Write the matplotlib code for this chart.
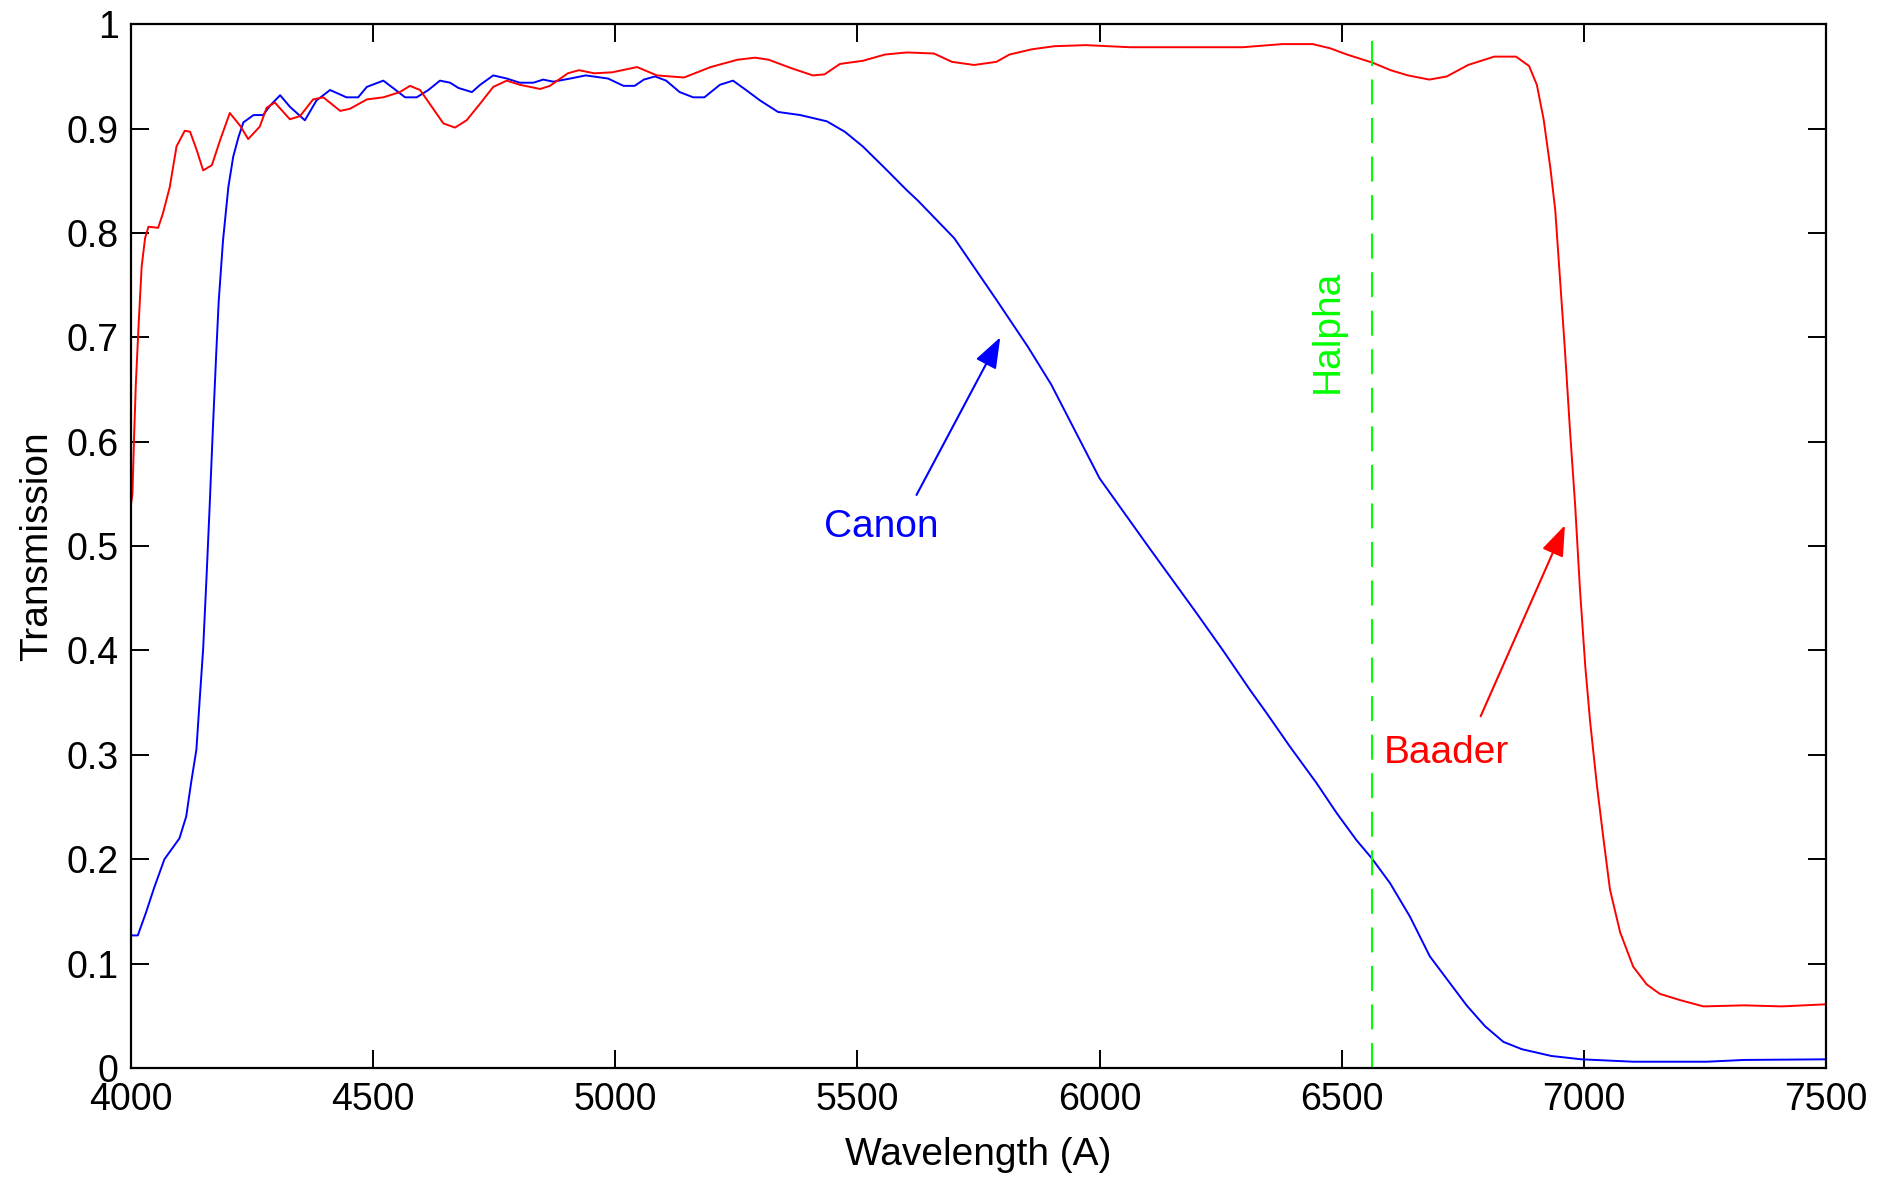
import numpy as np
import matplotlib.pyplot as plt
from matplotlib.ticker import FormatStrFormatter

plt.rcParams['font.family'] = ['Liberation Sans', 'DejaVu Sans']

# Canon (blue) transmission curve
canon_wl = [4000, 4014, 4031, 4048, 4069, 4100, 4114, 4124, 4135, 4142, 4149, 4156, 4162, 4169,
            4176, 4181, 4190, 4201, 4211, 4222, 4232, 4253, 4273, 4287, 4308, 4328, 4359, 4383,
            4411, 4445, 4469, 4487, 4521, 4541, 4566, 4590, 4614, 4638, 4659, 4676, 4704, 4721,
            4748, 4776, 4803, 4831, 4851, 4872, 4907, 4939, 4985, 5017, 5040, 5059, 5082, 5105,
            5133, 5161, 5184, 5216, 5243, 5270, 5299, 5336, 5382, 5437, 5474, 5511, 5557, 5602,
            5625, 5700, 5787, 5852, 5900, 6000, 6100, 6200, 6255, 6311, 6345, 6393, 6448, 6490,
            6531, 6562, 6600, 6641, 6682, 6724, 6758, 6796, 6834, 6872, 6933, 6995, 7102, 7254,
            7331, 7500]
canon_tr = [0.127, 0.127, 0.149, 0.173, 0.200, 0.220, 0.241, 0.273, 0.305, 0.354, 0.402, 0.471,
            0.534, 0.612, 0.685, 0.734, 0.793, 0.844, 0.873, 0.892, 0.906, 0.913, 0.913, 0.922,
            0.932, 0.921, 0.908, 0.927, 0.937, 0.930, 0.930, 0.940, 0.946, 0.939, 0.930, 0.930,
            0.937, 0.946, 0.944, 0.939, 0.935, 0.942, 0.951, 0.948, 0.944, 0.944, 0.947, 0.945,
            0.948, 0.951, 0.948, 0.941, 0.941, 0.947, 0.950, 0.946, 0.935, 0.930, 0.930, 0.942,
            0.946, 0.937, 0.927, 0.916, 0.913, 0.907, 0.897, 0.883, 0.862, 0.841, 0.831, 0.795,
            0.736, 0.691, 0.655, 0.565, 0.500, 0.436, 0.400, 0.362, 0.340, 0.308, 0.273, 0.244,
            0.218, 0.201, 0.177, 0.145, 0.107, 0.081, 0.060, 0.040, 0.025, 0.018, 0.0115, 0.0083,
            0.006, 0.006, 0.0077, 0.0083]

# Baader (red) transmission curve
baader_wl = [4000, 4003, 4006, 4010, 4016, 4022, 4029, 4036, 4056, 4066, 4080, 4094, 4111, 4122,
             4136, 4149, 4167, 4184, 4204, 4225, 4242, 4266, 4280, 4297, 4328, 4349, 4376, 4397,
             4432, 4452, 4487, 4521, 4555, 4576, 4597, 4624, 4645, 4669, 4693, 4721, 4748, 4776,
             4803, 4845, 4865, 4902, 4925, 4957, 4994, 5045, 5086, 5142, 5197, 5252, 5289, 5317,
             5363, 5408, 5432, 5464, 5511, 5557, 5602, 5658, 5695, 5741, 5787, 5814, 5860, 5907,
             5971, 6063, 6156, 6248, 6296, 6377, 6440, 6476, 6511, 6565, 6601, 6637, 6681, 6717,
             6761, 6815, 6860, 6887, 6903, 6917, 6931, 6941, 6951, 6961, 6972, 6982, 6992, 7003,
             7013, 7027, 7041, 7054, 7075, 7102, 7130, 7157, 7199, 7247, 7331, 7409, 7500]
baader_tr = [0.540, 0.550, 0.600, 0.656, 0.715, 0.768, 0.795, 0.806, 0.805, 0.819, 0.844, 0.883,
             0.898, 0.897, 0.879, 0.860, 0.865, 0.889, 0.915, 0.903, 0.890, 0.902, 0.920, 0.925,
             0.909, 0.912, 0.928, 0.930, 0.917, 0.919, 0.928, 0.930, 0.935, 0.941, 0.937, 0.919,
             0.905, 0.901, 0.908, 0.924, 0.940, 0.946, 0.942, 0.938, 0.941, 0.953, 0.956, 0.953,
             0.954, 0.959, 0.951, 0.949, 0.959, 0.966, 0.968, 0.966, 0.958, 0.951, 0.952, 0.962,
             0.965, 0.971, 0.973, 0.972, 0.964, 0.961, 0.964, 0.971, 0.976, 0.979, 0.980, 0.978,
             0.978, 0.978, 0.978, 0.981, 0.981, 0.977, 0.971, 0.963, 0.956, 0.951, 0.947, 0.950,
             0.961, 0.969, 0.969, 0.960, 0.942, 0.909, 0.862, 0.822, 0.755, 0.688, 0.607, 0.540,
             0.459, 0.385, 0.332, 0.271, 0.218, 0.171, 0.130, 0.097, 0.080, 0.071, 0.065, 0.059,
             0.060, 0.059, 0.061]

halpha = 6563

# annotation positions (wavelength, transmission)
canon_text = (5550, 0.509)
canon_tail = (5622, 0.549)
canon_tip = (5795, 0.700)
baader_text = (6717, 0.292)
baader_tail = (6787, 0.337)
baader_tip = (6961, 0.520)
halpha_text = (6472, 0.706)

fig = plt.figure(figsize=(18.77, 11.78), dpi=100)
ax = fig.add_axes([0.0698, 0.0934, 0.903, 0.886])

ax.plot(canon_wl, canon_tr, color=(0, 0, 1), lw=1.4)
ax.plot(baader_wl, baader_tr, color=(1, 0, 0), lw=1.4)
hl, = ax.plot([halpha, halpha], [0, 0.99], color=(0, 1, 0), lw=1.5)
hl.set_dashes((12, 6.5))

arrow_style = "-|>,head_length=1.9,head_width=0.7"
ax.text(*canon_text, "Canon", color=(0, 0, 1), fontsize=28, ha="center", va="baseline")
ax.annotate("", xy=canon_tip, xytext=canon_tail,
            arrowprops=dict(arrowstyle=arrow_style, color=(0, 0, 1),
                            lw=1.5, shrinkA=0, shrinkB=0))
ax.text(*baader_text, "Baader", color=(1, 0, 0), fontsize=28, ha="center", va="baseline")
ax.annotate("", xy=baader_tip, xytext=baader_tail,
            arrowprops=dict(arrowstyle=arrow_style, color=(1, 0, 0),
                            lw=1.5, shrinkA=0, shrinkB=0))
ax.text(*halpha_text, "Halpha", color=(0, 1, 0), fontsize=28, rotation=90,
        ha="center", va="center")

ax.set_xlim(4000, 7500)
ax.set_ylim(0, 1)
ax.set_xticks(np.arange(4000, 7501, 500))
ax.set_yticks(np.arange(0, 1.01, 0.1))
ax.yaxis.set_major_formatter(FormatStrFormatter("%g"))
ax.tick_params(direction="in", length=13, width=1.4, labelsize=27, top=True, right=True)
ax.tick_params(axis="x", pad=10)
ax.tick_params(axis="y", pad=9)
for s in ax.spines.values():
    s.set_linewidth(1.6)

ax.set_xlabel("Wavelength (A)", fontsize=28, labelpad=14)
ax.set_ylabel("Transmission", fontsize=28, labelpad=8)

plt.savefig("out.png", dpi=100)
